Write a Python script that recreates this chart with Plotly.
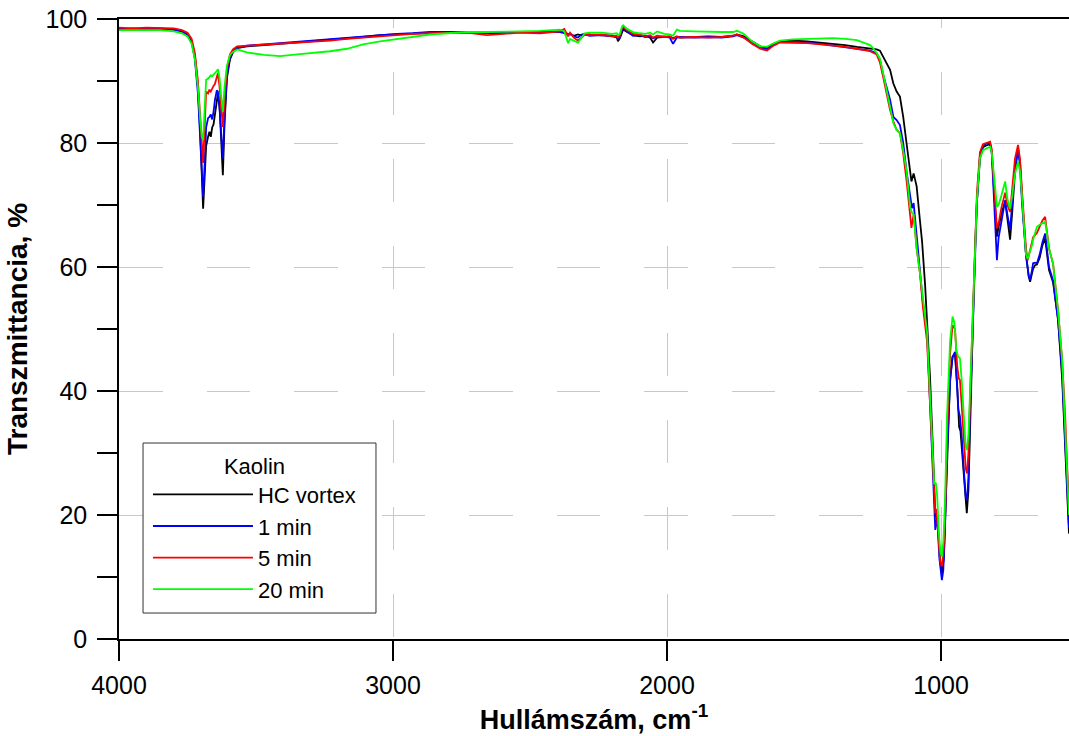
import plotly.graph_objects as go

# ---------------- data (wavenumber cm-1, transmittance %) ----------------
black_pts = [(4000,98.4),(3950,98.5),(3900,98.4),(3850,98.5),(3800,98.3),(3770,98.0),(3750,97.5),(3735,96.5),(3723,94),(3712,89),(3704,82),(3698,75),(3693,69.4),(3688,74),(3682,79.5),(3675,81),(3670,81.8),(3665,81),(3660,82.5),(3655,83),(3650,84.5),(3643,87),(3639,88),(3633,86),(3627,80),(3621,74.8),(3615,83),(3606,90.5),(3595,93.5),(3584,94.6),(3569,95.3),(3533,95.6),(3470,95.8),(3412,96.0),(3350,96.2),(3292,96.4),(3230,96.6),(3168,96.8),(3109,97.1),(3047,97.4),(2985,97.5),(2927,97.7),(2865,97.8),(2803,97.9),(2730,97.8),(2657,97.8),(2600,97.7),(2536,97.9),(2464,97.8),(2391,98.0),(2372,97.9),(2361,97.5),(2354,97.6),(2340,97.3),(2325,97.5),(2318,97.4),(2300,97.6),(2281,97.5),(2240,97.4),(2200,97.3),(2183,97.0),(2179,96.4),(2172,96.9),(2164,98.0),(2160,98.3),(2146,97.9),(2124,97.4),(2100,97.2),(2080,97.3),(2062,97.0),(2051,96.2),(2036,97.0),(2010,97.1),(1990,97.2),(1978,96.9),(1964,97.1),(1953,97.0),(1900,97.1),(1850,97.2),(1800,97.1),(1759,97.3),(1745,97.5),(1720,97.2),(1690,96.4),(1660,95.6),(1635,95.3),(1615,95.9),(1588,96.4),(1540,96.5),(1489,96.4),(1440,96.2),(1394,96.0),(1350,95.8),(1307,95.5),(1259,95.3),(1235,95.1),(1223,94.9),(1211,93.9),(1198,93.0),(1186,91.8),(1174,89.6),(1162,88.3),(1150,87.5),(1138,84.2),(1126,80.0),(1113,75.3),(1108,73.8),(1100,75.1),(1089,73.0),(1077,67.5),(1069,64),(1058,57),(1050,51),(1040,42),(1030,31),(1022,21),(1018,19.7),(1010,17.5),(1004,13),(997,10.5),(990,13),(984,20),(978,30),(967,42),(958,45.5),(949,46),(940,40),(934,34.2),(929,33.5),(920,28),(912,23),(906,20.3),(900,24),(894,35),(883,52),(875,64),(869,70.5),(858,77.5),(847,79.3),(835,79.6),(821,79.8),(815,78.5),(810,75),(803,70),(796,64.9),(790,66.5),(780,68.5),(766,70.6),(758,67.5),(748,64.4),(740,69),(730,75.5),(719,79.0),(712,77),(704,71),(690,62),(680,58.5),(675,57.6),(668,59),(664,59.7),(657,60.3),(650,60.4),(640,61.5),(630,63.5),(620,64.6),(612,62),(606,59.5),(591,57.5),(573,51.5),(558,42),(547,32),(540,24),(533,17)]

blue_pts = [(4000,98.4),(3950,98.4),(3900,98.5),(3850,98.4),(3800,98.3),(3770,98.0),(3750,97.5),(3735,96.3),(3723,93.5),(3712,88),(3704,81),(3698,75),(3693,71.3),(3688,76),(3682,82.5),(3675,84),(3670,84.2),(3665,84.6),(3660,83.8),(3655,85),(3650,86.9),(3643,88.5),(3639,88.3),(3633,85.5),(3627,81),(3621,77.5),(3615,84),(3606,91),(3595,93.8),(3584,94.8),(3569,95.4),(3533,95.7),(3470,95.9),(3412,96.1),(3350,96.3),(3292,96.5),(3230,96.7),(3168,96.9),(3109,97.2),(3047,97.4),(2985,97.6),(2927,97.7),(2865,97.9),(2803,97.9),(2730,97.9),(2657,97.8),(2600,97.8),(2536,97.9),(2464,97.8),(2391,97.9),(2372,97.7),(2361,97.4),(2354,97.6),(2340,97.2),(2325,97.0),(2318,97.3),(2300,97.5),(2281,97.3),(2240,97.4),(2200,97.2),(2183,97.1),(2179,96.8),(2172,97.0),(2164,98.2),(2160,98.5),(2146,98.0),(2124,97.3),(2100,97.4),(2080,97.1),(2062,97.2),(2051,96.9),(2036,97.1),(2010,97.2),(1990,97.0),(1978,96.0),(1964,97.0),(1953,97.1),(1900,97.0),(1850,97.1),(1800,97.0),(1759,97.2),(1745,97.4),(1720,97.0),(1690,96.2),(1660,95.4),(1635,95.1),(1615,95.7),(1588,96.3),(1540,96.3),(1489,96.2),(1440,96.0),(1394,95.7),(1350,95.5),(1307,95.2),(1259,94.9),(1235,94.5),(1223,93.4),(1211,91.0),(1198,89.0),(1186,87.0),(1174,84.2),(1162,83.7),(1150,82.9),(1138,80.0),(1126,75.5),(1113,71.0),(1106,69.5),(1100,70.3),(1089,65),(1083,62.2),(1066,54.2),(1051,49.4),(1040,38.5),(1030,27.8),(1025,21),(1021,17.6),(1018,19.2),(1012,18),(1006,13),(1000,10),(997,9.5),(992,11),(986,17),(978,30),(967,41.5),(958,45.5),(949,46.3),(943,42),(937,37),(931,35.9),(925,33),(918,28),(910,23),(905,22.4),(900,26),(894,37),(883,53),(875,64),(869,70.5),(858,78),(847,79.5),(835,79.9),(821,80.0),(815,78.5),(810,74),(803,67),(796,61.1),(790,64.7),(780,67),(766,70.8),(758,68.5),(748,66),(740,70.5),(730,76),(719,79.1),(712,76.5),(704,70),(690,62),(680,58.5),(675,57.9),(668,59.5),(664,60.6),(657,60.7),(650,60.6),(640,62),(630,64),(620,65.4),(612,62.5),(606,60),(591,57.8),(573,51.5),(558,43),(547,33),(540,25),(533,18)]

red_pts = [(4000,98.6),(3950,98.5),(3900,98.6),(3850,98.6),(3800,98.5),(3770,98.2),(3750,97.8),(3735,96.8),(3723,94.5),(3712,90),(3704,84),(3698,79),(3693,76.8),(3688,82),(3682,88.3),(3675,88),(3670,88.6),(3665,88.3),(3660,88.9),(3655,89.2),(3650,89.5),(3643,90.5),(3639,91.3),(3633,89),(3627,85),(3621,82.6),(3615,87),(3606,92),(3595,94.3),(3584,95.1),(3569,95.6),(3533,95.7),(3470,95.8),(3412,96.0),(3350,96.2),(3292,96.3),(3230,96.5),(3168,96.8),(3109,97.0),(3047,97.3),(2985,97.5),(2927,97.6),(2865,97.7),(2803,97.8),(2730,97.8),(2657,97.4),(2600,97.6),(2536,97.8),(2464,97.7),(2391,98.0),(2375,98.4),(2368,97.8),(2361,97.2),(2354,97.8),(2340,97.0),(2325,96.5),(2318,96.8),(2300,97.5),(2281,97.4),(2240,97.5),(2200,97.2),(2183,97.3),(2179,97.0),(2172,97.3),(2164,98.6),(2160,98.8),(2146,98.2),(2124,97.6),(2100,97.5),(2080,97.2),(2062,97.4),(2051,97.0),(2036,97.3),(2010,97.1),(1990,97.2),(1978,96.8),(1964,97.2),(1953,97.0),(1900,97.1),(1850,97.0),(1800,97.1),(1759,97.3),(1745,97.5),(1720,97.0),(1690,96.0),(1660,95.2),(1635,94.9),(1615,95.6),(1588,96.2),(1540,96.2),(1489,96.1),(1440,95.9),(1394,95.7),(1350,95.5),(1307,95.2),(1259,94.8),(1235,94.3),(1223,93.0),(1211,90.6),(1198,88.0),(1186,85.3),(1174,83.5),(1162,82.1),(1150,81.6),(1138,78.3),(1126,74.0),(1113,68.1),(1108,66.3),(1100,68.5),(1089,63),(1077,59),(1066,53.5),(1051,48),(1040,37.5),(1030,27),(1025,21.8),(1021,20.3),(1017,21),(1010,17),(1003,12.5),(997,11.7),(991,14),(985,20),(978,33),(967,46),(958,50.6),(949,50),(941,44),(935,42),(931,41.8),(925,38),(918,32),(910,27.5),(905,26.7),(900,30),(894,39),(883,55),(875,66),(869,72),(858,78.5),(847,79.8),(835,80.0),(821,80.2),(815,79),(810,76),(803,71),(796,66.2),(790,67),(780,69.5),(766,72),(758,70),(748,68.9),(740,73),(730,77.5),(719,79.7),(712,77.5),(704,72),(690,63),(684,61.1),(675,62.5),(668,64),(664,64.8),(657,65.2),(650,65.5),(640,66.5),(630,67.5),(620,68.1),(612,65.5),(606,63),(591,60.5),(573,53),(558,45),(547,36),(540,28),(533,22)]

green_pts = [(4000,98.2),(3950,98.2),(3900,98.1),(3850,98.2),(3800,98.0),(3770,97.7),(3750,97.2),(3735,96.0),(3723,93.5),(3712,89),(3704,84),(3698,81),(3693,80.5),(3688,85),(3682,90.2),(3675,90.4),(3670,90.6),(3665,90.9),(3660,90.8),(3655,91.0),(3650,91.2),(3643,91.6),(3639,91.9),(3633,90.5),(3627,87.5),(3621,85),(3615,89),(3606,92.5),(3595,94.2),(3584,94.7),(3569,95.1),(3533,94.6),(3470,94.2),(3412,94.0),(3350,94.3),(3292,94.5),(3230,94.8),(3168,95.2),(3109,95.9),(3047,96.4),(2985,96.8),(2927,97.2),(2865,97.5),(2803,97.7),(2730,97.9),(2657,97.9),(2600,97.9),(2536,98.0),(2464,98.1),(2391,98.3),(2375,98.0),(2368,97.0),(2361,96.1),(2354,96.8),(2340,96.5),(2325,96.2),(2318,96.6),(2300,97.7),(2281,97.8),(2240,97.8),(2200,97.6),(2183,97.7),(2179,97.4),(2172,97.6),(2164,98.8),(2160,99.0),(2146,98.4),(2124,97.9),(2100,97.7),(2080,97.6),(2062,97.8),(2051,97.5),(2036,98.0),(2010,97.6),(1990,97.5),(1978,97.3),(1964,98.3),(1953,98.1),(1900,98.0),(1850,97.9),(1800,97.9),(1759,97.9),(1745,98.1),(1720,97.6),(1690,96.4),(1660,95.6),(1635,95.5),(1615,96.0),(1588,96.5),(1540,96.7),(1489,96.8),(1440,96.9),(1394,96.9),(1350,96.8),(1307,96.6),(1259,95.8),(1248,95.3),(1235,94.5),(1223,93.6),(1211,91.2),(1198,88.5),(1186,85.9),(1174,83.2),(1162,82.1),(1150,81.6),(1138,78.8),(1126,75.6),(1113,69.7),(1106,68.7),(1100,68.5),(1089,63),(1077,59),(1066,54.7),(1051,49.5),(1040,39),(1030,29),(1025,25),(1019,25.2),(1014,23),(1008,17),(1002,14),(997,13.3),(991,16),(985,23),(978,36),(967,48),(958,52),(951,51),(944,46.5),(937,45.5),(931,45.3),(925,42),(918,36),(910,31),(905,30.5),(900,33),(894,40),(883,55),(875,65),(869,71),(858,77.5),(847,78.8),(835,79.1),(821,79.4),(815,78.5),(810,76.5),(803,73),(796,69.7),(790,70),(780,71.5),(766,73.8),(758,71),(748,69.4),(740,71.5),(730,75),(719,77),(712,75.5),(704,71),(690,62),(684,61.3),(675,62.5),(668,63.5),(664,64.4),(657,65.5),(650,66.5),(640,66.8),(630,67),(620,67.3),(612,65),(606,63),(591,60.5),(573,53),(558,45),(547,35),(540,27),(533,20)]

series_names = ["HC vortex", "1 min", "5 min", "20 min"]
series_colors = ["#000000", "#0000ff", "#ff0000", "#00ff00"]
series_points = [black_pts, blue_pts, red_pts, green_pts]

x_ticks = [4000, 3000, 2000, 1000]
y_ticks = [0, 20, 40, 60, 80, 100]

FONT = 'Arial, "Liberation Sans", sans-serif'

fig = go.Figure()
for name, color, pts in zip(series_names, series_colors, series_points):
    fig.add_trace(go.Scatter(
        x=[p[0] for p in pts], y=[p[1] for p in pts],
        mode="lines", name=name,
        line=dict(color=color, width=1.8),
    ))

# legend frame (paper coordinates of the plot area)
fig.add_shape(type="rect", xref="paper", yref="paper",
              x0=0.0253, x1=0.2705, y0=0.0419, y1=0.3161,
              line=dict(color="#333333", width=1), fillcolor="white", layer="above")

fig.update_layout(
    width=1069, height=736,
    margin=dict(l=119, r=0, t=19, b=97, autoexpand=False),
    plot_bgcolor="white", paper_bgcolor="white",
    font=dict(family=FONT, color="black", size=24),
    showlegend=True,
    legend=dict(
        x=0.0305, y=0.3129, xanchor="left", yanchor="top",
        borderwidth=0, bgcolor="rgba(0,0,0,0)",
        font=dict(family=FONT, size=22, color="black"),
        title=dict(text="Kaolin", side="top center", font=dict(family=FONT, size=22)),
        itemwidth=100, tracegroupgap=0,
    ),
)

fig.update_xaxes(
    range=[4000, 533], autorange=False, automargin=False,
    tickmode="array", tickvals=x_ticks, ticktext=[str(v) for v in x_ticks],
    ticks="outside", ticklen=20, tickwidth=1.5, tickcolor="black",
    tickfont=dict(size=25), ticklabelstandoff=3, ticklabeloverflow="allow",
    showline=True, linecolor="black", linewidth=1.5, mirror=True,
    showgrid=True, gridcolor="#c8c8c8", gridwidth=1.2,
    griddash="9px,44px,43px,44px,43px,44px,43px,44px,43px,44px,43px,44px,43px,44px,43px,44px",
    zeroline=False,
    title=dict(text="<b>Hullámszám, cm<sup>-1</sup></b>", font=dict(size=27), standoff=12),
)

fig.update_yaxes(
    range=[0, 100], autorange=False, automargin=False,
    tickmode="array", tickvals=y_ticks, ticktext=[str(v) for v in y_ticks],
    ticks="outside", ticklen=20, tickwidth=1.5, tickcolor="black",
    tickfont=dict(size=25), ticklabelstandoff=5, ticklabeloverflow="allow",
    minor=dict(dtick=10, tick0=0, ticks="outside", ticklen=20, tickwidth=1.5, tickcolor="black", showgrid=False),
    showline=True, linecolor="black", linewidth=1.5,
    showgrid=True, gridcolor="#c8c8c8", gridwidth=1.2,
    griddash="43.5px,44px",
    zeroline=False,
    title=dict(text="<b>Transzmittancia, %</b>", font=dict(size=28), standoff=10),
)

fig.write_html(
    "out.html",
    config={"displayModeBar": False},
    post_script="document.body.style.margin='0';document.body.style.overflow='hidden';document.documentElement.style.overflow='hidden';",
)
